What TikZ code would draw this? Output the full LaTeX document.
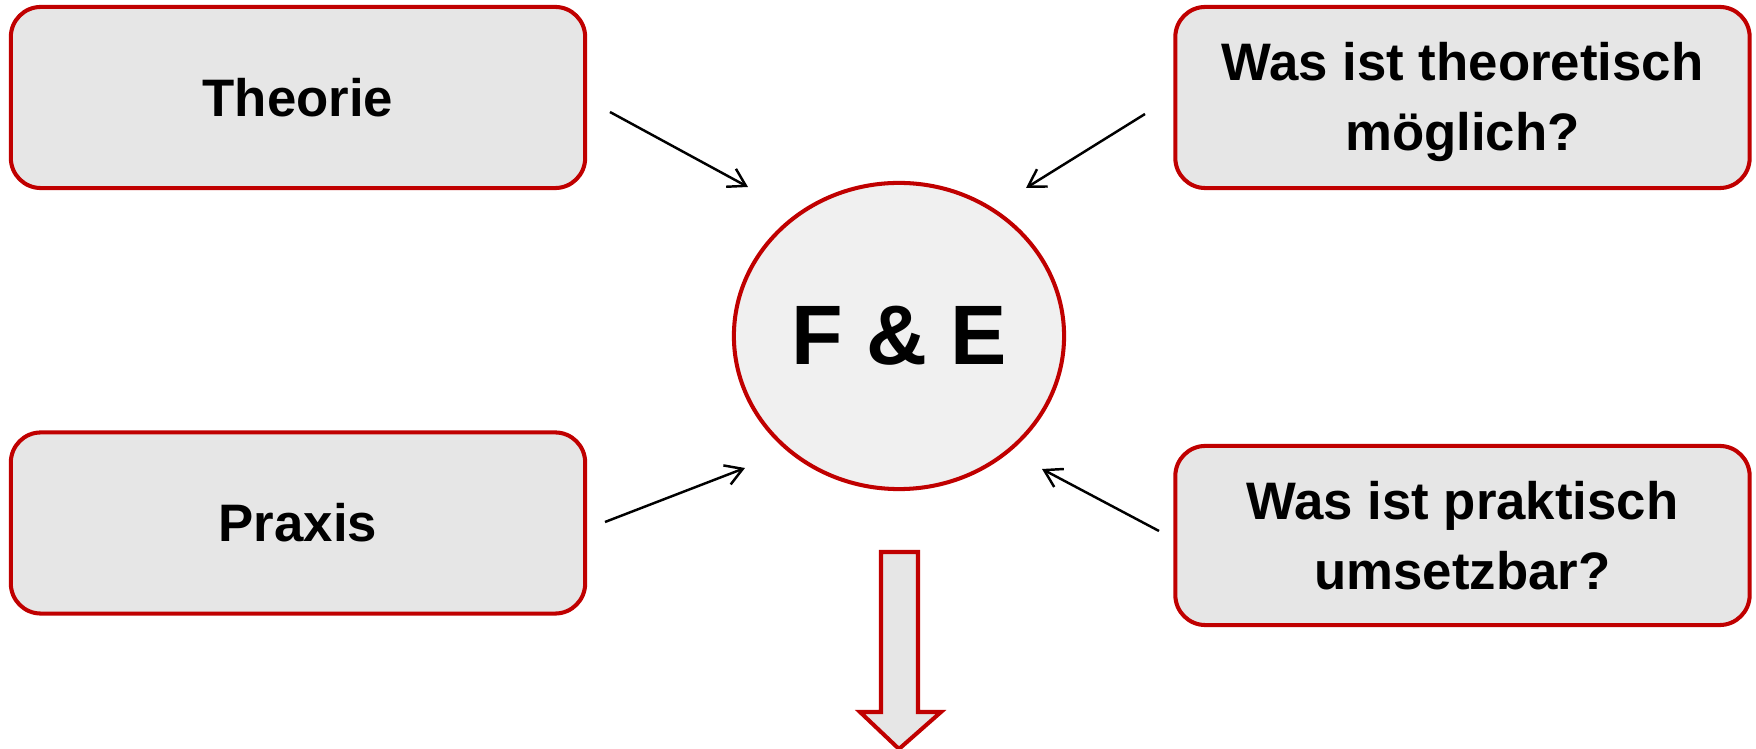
\documentclass[tikz,border=0pt]{standalone}
\usepackage{fontspec}
\setmainfont{Liberation Sans}
\usetikzlibrary{arrows.meta,shapes.geometric}
\definecolor{frame}{HTML}{C00000}
\definecolor{boxfill}{HTML}{E6E6E6}
\definecolor{discfill}{HTML}{F0F0F0}
\tikzset{
  boxtext/.style={align=center, inner sep=0pt, font=\fontsize{15}{20}\selectfont\bfseries},
  infobox/.style={boxtext, draw=frame, fill=boxfill, line width=1.15pt, rounded corners=0.3cm,
    minimum width=5.74cm, minimum height=1.81cm},
  hub/.style={draw=frame, fill=discfill, line width=1.15pt, ellipse,
    minimum width=3.3cm, minimum height=3.06cm, inner sep=0pt,
    font=\fontsize{24}{28}\selectfont\bfseries},
  feed/.style={draw=black, line width=0.7pt, -{Straight Barb[length=4.8pt,width=5.8pt]}},
  outflow/.style={draw=frame, fill=boxfill, line width=1.15pt, line join=miter}
}
\begin{document}
\begin{tikzpicture}[x=0.01cm, y=-0.01cm]
\useasboundingbox (0,0) rectangle (1756,749);

% sources and questions
\node[infobox] (theorie) at (298,97.5) {Theorie};
\node[infobox] (praxis) at (298,523) {Praxis};
\node[infobox] (moeglich) at (1462.5,97.5) {};
\node[boxtext] (moeglichtext) at (1462.5,102) {Was ist theoretisch\\möglich?};
\node[infobox, minimum height=1.79cm] (umsetzbar) at (1462.5,535.5) {Was ist praktisch\\umsetzbar?};

% research and development
\node[hub] (fe) at (899,336) {F \& E};

% arrow end points
\coordinate (t1) at (610,112);  \coordinate (t2) at (748,187);
\coordinate (m1) at (1145,114); \coordinate (m2) at (1026,188);
\coordinate (p1) at (605,522);  \coordinate (p2) at (745,468);
\coordinate (u1) at (1159,531); \coordinate (u2) at (1042,469);

\draw[feed] (t1) -- (t2);
\draw[feed] (m1) -- (m2);
\draw[feed] (p1) -- (p2);
\draw[feed] (u1) -- (u2);

% outgoing block arrow
\draw[outflow] (881,552) -- (918,552) -- (918,712) -- (941,712) -- (899,749)
  -- (860,712) -- (881,712) -- cycle;
\end{tikzpicture}
\end{document}
